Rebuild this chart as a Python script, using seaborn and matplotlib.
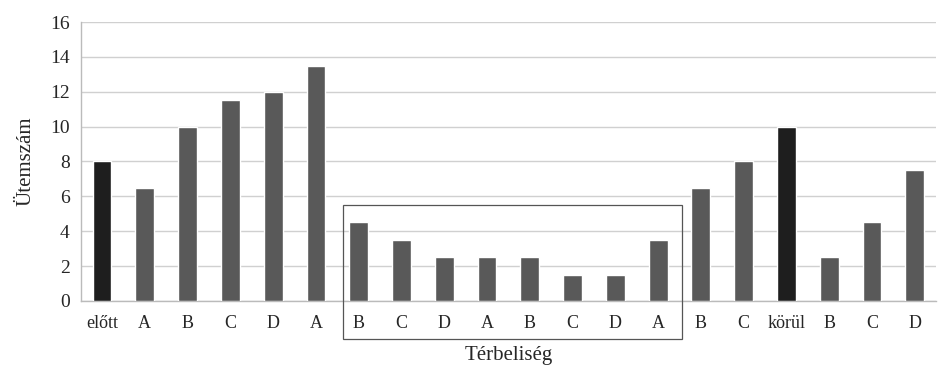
import numpy as np
import pandas as pd
import matplotlib
matplotlib.use('Agg')
import matplotlib.pyplot as plt
import matplotlib.transforms as mtransforms
from matplotlib.patches import Rectangle
import seaborn as sns

# ========== adatok ==========
categories = ['előtt', 'A', 'B', 'C', 'D', 'A', 'B', 'C', 'D', 'A',
              'B', 'C', 'D', 'A', 'B', 'C', 'körül', 'B', 'C', 'D']
values = [8, 6.5, 10, 11.5, 12, 13.5, 4.5, 3.5, 2.5, 2.5,
          2.5, 1.5, 1.5, 3.5, 6.5, 8, 10, 2.5, 4.5, 7.5]
y_ticks = [0, 2, 4, 6, 8, 10, 12, 14, 16]

df = pd.DataFrame({'pos': [str(i) for i in range(len(categories))],
                   'label': categories, 'value': values})
dark = '#1e1e1e'
grey = '#595959'
palette = {p: (dark if lab in ('előtt', 'körül') else grey)
           for p, lab in zip(df['pos'], df['label'])}

sns.set_style('white')
plt.rcParams['font.family'] = ['Liberation Serif', 'DejaVu Serif']

fig = plt.figure(figsize=(9.38, 3.67), dpi=100)
ax = fig.add_axes([0.086, 0.18, 0.912, 0.76])

sns.barplot(data=df, x='pos', y='value', hue='pos', palette=palette,
            width=0.44, legend=False, ax=ax, saturation=1, zorder=3)

ax.set_ylim(0, 16)
ax.set_yticks(y_ticks)
ax.set_xlim(-0.5, len(categories) - 0.5)
ax.set_xticks(range(len(categories)))
ax.set_xticklabels(categories, fontsize=13)
ax.tick_params(axis='y', labelsize=14, length=0, pad=8)
ax.tick_params(axis='x', length=0, pad=10)
ax.set_xticks(np.arange(-0.5, len(categories)), minor=True)
ax.tick_params(axis='x', which='minor', length=4, color='#bbbbbb', direction='out')

ax.grid(axis='y', color='#d0d0d0', linewidth=1, zorder=0)
for s in ['top', 'right']:
    ax.spines[s].set_visible(False)
for s in ['left', 'bottom']:
    ax.spines[s].set_color('#bbbbbb')
    ax.spines[s].set_linewidth(1)

ax.set_ylabel('Ütemszám', fontsize=15, labelpad=10)
ax.set_xlabel('Térbeliség', fontsize=15, labelpad=10)

# keret a középső szakasz körül
trans = mtransforms.blended_transform_factory(ax.transData, fig.transFigure)
rect = Rectangle((5.63, 1 - 339 / 367), 13.55 - 5.63, (339 - 205) / 367,
                 transform=trans, fill=False, edgecolor='#555555',
                 linewidth=0.9, clip_on=False, zorder=5)
ax.add_patch(rect)

fig.savefig('out.png', dpi=100, facecolor='white')
